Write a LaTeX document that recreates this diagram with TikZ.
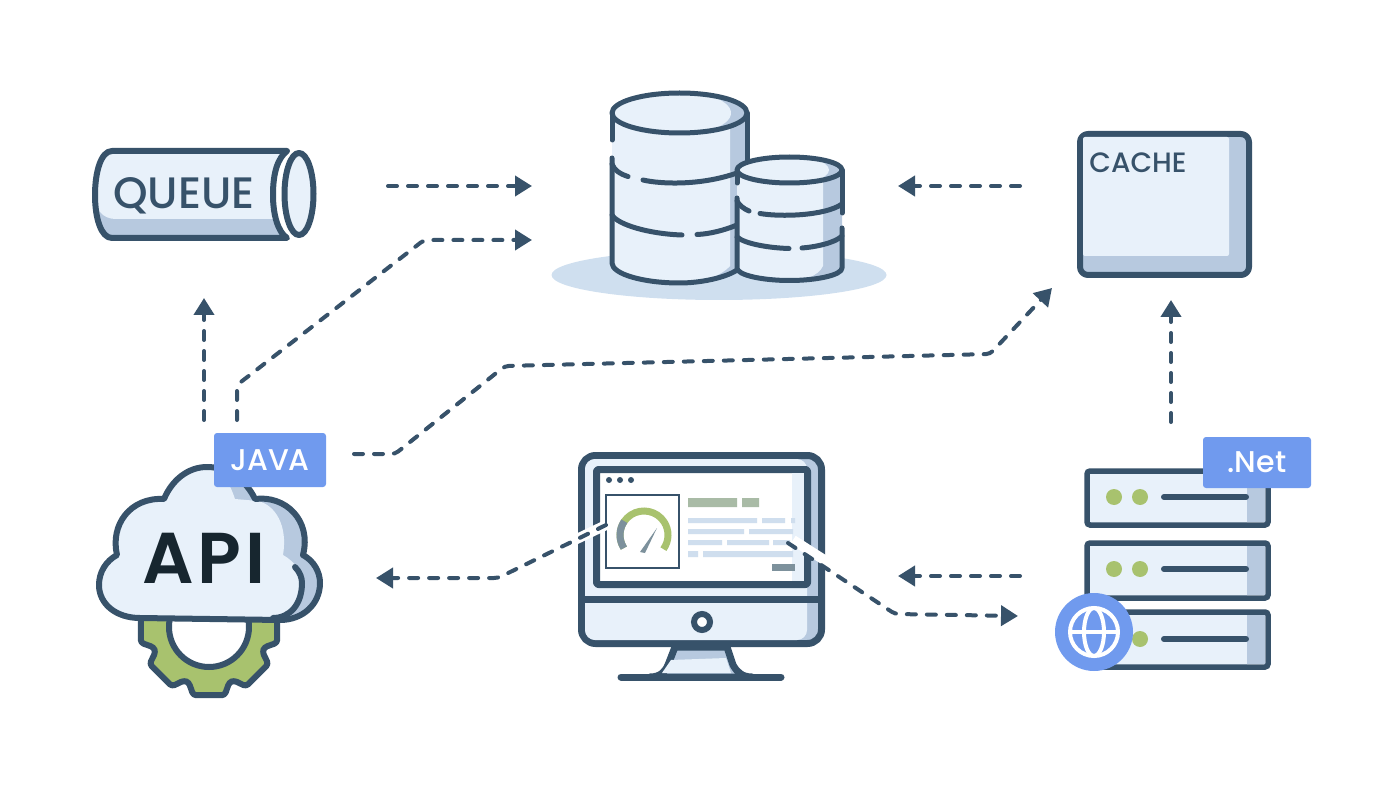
\documentclass[tikz,border=0pt]{standalone}
\usepackage{fontspec}
\usetikzlibrary{arrows.meta}
\newfontfamily\labelfont{Poppins Medium}
\newfontfamily\apifont[LetterSpace=5]{Poppins SemiBold}
\definecolor{inkline}{HTML}{37526A}
\definecolor{inkdark}{HTML}{17262F}
\definecolor{faceblue}{HTML}{E8F1FA}
\definecolor{shadeblue}{HTML}{B7C9DF}
\definecolor{groundblue}{HTML}{CFDFEF}
\definecolor{tagblue}{HTML}{709AEE}
\definecolor{leafgreen}{HTML}{A8C26E}
\definecolor{needlegray}{HTML}{7D919C}
\definecolor{barblue}{HTML}{CFDEEE}
\definecolor{bargreen}{HTML}{A9BBA6}
\tikzset{
    outline/.style={draw=inkline, line width=5pt, line join=round, line cap=round},
    flow/.style={draw=inkline, line width=4pt, line cap=round,
        dash pattern=on 9pt off 11pt, rounded corners=4pt,
        -{Triangle[length=17pt,width=20pt]}},
    halo/.style={draw=white, line width=10pt},
    tagbox/.style={fill=tagblue, rounded corners=3pt, text=white, inner sep=0pt,
        font=\labelfont\fontsize{30}{30}\selectfont},
    iconlabel/.style={anchor=base, inner sep=0pt, text=inkline},
    rackunit/.style={fill=faceblue, draw=inkline, line width=5.5pt, rounded corners=3pt}
}
\begin{document}
\begin{tikzpicture}[x=1pt, y=-1pt]
    \useasboundingbox (0,0) rectangle (1400,794);

    % queue
    \fill[shadeblue] (287,151) -- (112,151) .. controls (101,151) and (95,172) .. (95,195)
        .. controls (95,218) and (101,238) .. (112,238) -- (287,238)
        .. controls (278,232) and (273,215) .. (273,195) .. controls (273,172) and (278,158) .. (287,151) -- cycle;
    \fill[faceblue] (287,151) -- (112,151) .. controls (101,151) and (95,172) .. (95,195)
        .. controls (95,210) and (103,219) .. (116,219) -- (274,219)
        .. controls (273,212) and (273,203) .. (273,195) .. controls (273,172) and (278,158) .. (287,151) -- cycle;
    \draw[outline, line width=6pt] (287,151) -- (112,151) .. controls (101,151) and (95,172) .. (95,195)
        .. controls (95,218) and (101,238) .. (112,238) -- (287,238)
        .. controls (278,232) and (273,215) .. (273,195) .. controls (273,172) and (278,158) .. (287,151);
    \draw[outline, line width=6pt, fill=faceblue] (299,194) ellipse [x radius=14.5, y radius=41];
    \node[iconlabel, font=\labelfont\fontsize{44}{44}\selectfont] (queue) at (184,209) {QUEUE};

    % database
    \fill[groundblue] (719,275) ellipse [x radius=167.5, y radius=25];
    \fill[shadeblue] (612,113) -- (612,263) .. controls (612,274) and (643,283) .. (679.5,283)
        .. controls (716,283) and (747,274) .. (747,263) -- (747,113) -- cycle;
    \fill[faceblue] (612,113) -- (612,263) .. controls (612,274) and (643,283) .. (679.5,283)
        .. controls (700,283) and (720,277) .. (730,266) -- (730,113) -- cycle;
    \fill[shadeblue] (679.5,113) ellipse [x radius=67.5, y radius=20];
    \begin{scope}
        \clip (679.5,113) ellipse [x radius=67.5, y radius=20];
        \fill[faceblue] (663,113) ellipse [x radius=68, y radius=24];
    \end{scope}
    \draw[outline] (679.5,113) ellipse [x radius=67.5, y radius=20];
    \draw[outline] (612,113) -- (612,140);
    \draw[outline] (612,158) -- (612,263) .. controls (612,274) and (643,283) .. (679.5,283)
        .. controls (700,283) and (725,278) .. (737,270);
    \draw[outline] (747,113) -- (747,160);
    \draw[outline] (612,164) .. controls (614,170) and (620,174) .. (628,176.5);
    \draw[outline] (643,180) .. controls (660,184) and (700,186) .. (737,173);
    \draw[outline] (612,215) .. controls (618,225) and (650,234) .. (682,235);
    \draw[outline] (697,234.5) .. controls (710,234) and (725,230) .. (737,225);

    \fill[shadeblue] (737,170) -- (737,268) .. controls (737,275) and (762,280.5) .. (789.5,280.5)
        .. controls (817,280.5) and (842,275) .. (842,268) -- (842,170) -- cycle;
    \fill[faceblue] (737,170) -- (737,268) .. controls (737,275) and (762,280.5) .. (789.5,280.5)
        .. controls (802,280.5) and (818,277) .. (823,266) -- (823,170) -- cycle;
    \fill[shadeblue] (789.5,170) ellipse [x radius=52.5, y radius=13];
    \begin{scope}
        \clip (789.5,170) ellipse [x radius=52.5, y radius=13];
        \fill[faceblue] (777,170) ellipse [x radius=52, y radius=16];
    \end{scope}
    \draw[outline] (789.5,170) ellipse [x radius=52.5, y radius=13];
    \draw[outline] (737,170) -- (737,183);
    \draw[outline] (737,198) -- (737,268) .. controls (737,275) and (762,280.5) .. (789.5,280.5)
        .. controls (817,280.5) and (842,275) .. (842,268) -- (842,228);
    \draw[outline] (842,170) -- (842,213);
    \draw[outline] (737,201) .. controls (739,205) and (744,209) .. (749,211);
    \draw[outline] (760,213.5) .. controls (780,217) and (825,216) .. (842,204);
    \draw[outline] (737,237) .. controls (745,244) and (770,248) .. (789,248.5);
    \draw[outline] (802,248) .. controls (815,247) and (835,243) .. (842,236);

    % cache
    \draw[outline, line width=6pt, fill=shadeblue, rounded corners=8pt] (1080,134) rectangle (1249,275);
    \fill[faceblue, rounded corners=2pt] (1083,137) rectangle (1229,256);
    \node[iconlabel, font=\labelfont\fontsize{28}{28}\selectfont] (cache) at (1138,173) {CACHE};

    % gear
    \begin{scope}[shift={(209,627)}]
        \draw[outline, line width=6pt, fill=leafgreen, rounded corners=3pt]
            (-20:59) \foreach \a in {0,45,...,315} { -- (\a-20:59) -- (\a-13:70) -- (\a+13:70) -- (\a+20:59) } -- cycle;
        \draw[outline, line width=6pt, fill=white] (0,0) circle (40);
    \end{scope}

    % cloud
    \fill[shadeblue] (140,618) .. controls (116,618) and (99,604) .. (99,585) .. controls (99,572) and (106,561) .. (117,555)
        .. controls (110,525) and (130,497) .. (164,499) .. controls (172,480) and (188,467) .. (207,467)
        .. controls (228,467) and (246,480) .. (255,499) .. controls (285,495) and (312,520) .. (303,555)
        .. controls (314,561) and (320,572) .. (320,583) .. controls (320,604) and (303,620) .. (280,620) -- cycle;
    \fill[faceblue] (140,618) .. controls (116,618) and (99,604) .. (99,585) .. controls (99,572) and (106,561) .. (117,555)
        .. controls (110,525) and (130,497) .. (164,499) .. controls (172,480) and (188,467) .. (207,467)
        .. controls (220,470) and (228,478) .. (235,499) -- (258,501) .. controls (275,505) and (288,525) .. (283,555)
        .. controls (294,561) and (302,572) .. (302,583) .. controls (302,604) and (290,618) .. (273,618) -- cycle;
    \draw[outline, line width=6pt] (140,618) .. controls (116,618) and (99,604) .. (99,585) .. controls (99,572) and (106,561) .. (117,555)
        .. controls (110,525) and (130,497) .. (164,499) .. controls (172,480) and (188,467) .. (207,467)
        .. controls (228,467) and (246,480) .. (255,499) .. controls (285,495) and (312,520) .. (303,555)
        .. controls (314,561) and (320,572) .. (320,583) .. controls (320,604) and (303,620) .. (280,620) -- cycle;
    \draw[outline, line width=6pt] (295,567) .. controls (300,572) and (302,578) .. (302,583)
        .. controls (302,604) and (290,618) .. (273,618);
    \node[iconlabel, text=inkdark, font=\apifont\fontsize{72}{72}\selectfont] (api) at (204,583) {API};
    \node[tagbox, minimum width=112pt, minimum height=54pt] (java) at (270,460) {JAVA};

    % monitor
    \draw[outline, line width=7pt, fill=shadeblue] (675,647) -- (668,665) .. controls (665,672) and (660,677) .. (650,677)
        -- (752,677) .. controls (742,677) and (737,672) .. (733,665) -- (727,647) -- cycle;
    \fill[faceblue] (671,660) -- (726,658) -- (731,673) -- (662,673) -- cycle;
    \draw[outline, line width=7pt] (621,677) -- (781,677);
    \draw[outline, line width=7pt, fill=shadeblue, rounded corners=14pt] (581.5,455.5) rectangle (821.5,643.5);
    \fill[faceblue, rounded corners=10pt] (585,459) rectangle (807,640);
    \draw[outline, line width=7pt, line cap=butt] (581.5,599) -- (821.5,599);
    \draw[outline, line width=7pt, fill=white, rounded corners=2pt] (596.5,469.5) rectangle (807.5,584.5);
    \fill[faceblue] (792,473) rectangle (804,581);
    \foreach \px in {609,620,631}
        \fill[inkline] (\px,480) circle (3);
    \draw[draw=inkline, line width=6pt, fill=white] (702,622) circle (8);

    % screen content
    \node[draw=inkline, line width=1.5pt, fill=white, minimum width=73pt, minimum height=73pt, inner sep=0pt] (gaugebox) at (642.5,531.5) {};
    \draw[draw=leafgreen, line width=7pt] (644,535) ++(147:24) arc (147:396:24);
    \draw[draw=needlegray, line width=7pt] (644,535) ++(147:24) arc (147:215:24);
    \fill[needlegray] (640,552) -- (657,528) -- (645,553) -- cycle;
    \fill[bargreen] (688,498) rectangle (737,507) (742,498) rectangle (759,507);
    \fill[barblue] (688,518) rectangle (757,523) (762,518) rectangle (785,523) (791,518) rectangle (795,523);
    \fill[barblue] (688,529) rectangle (744,534) (749,529) rectangle (793,534);
    \fill[barblue] (688,540) rectangle (722,545) (727,540) rectangle (769,545) (773,540) rectangle (790,545);
    \fill[barblue] (688,551) rectangle (698,557) (703,551) rectangle (793,557);
    \fill[needlegray] (772,564) rectangle (795,571);

    % server rack
    \foreach \ry in {497,569,639} {
        \fill[faceblue] (1087,\ry-27) rectangle (1247,\ry+28);
    }
    \draw[rackunit, fill=none] (1087,471) rectangle (1268,525);
    \draw[rackunit, fill=none] (1087,543) rectangle (1268,598);
    \draw[rackunit, fill=none] (1087,612) rectangle (1268,667);
    \fill[shadeblue] (1247,474) rectangle (1265,522) (1247,546) rectangle (1265,595) (1247,615) rectangle (1265,664);
    \foreach \ry in {497,569,639} {
        \fill[leafgreen] (1114,\ry) circle (8);
        \fill[leafgreen] (1140,\ry) circle (8);
        \draw[outline, line width=6pt] (1164,\ry) -- (1246,\ry);
    }
    \node[circle, fill=tagblue, minimum size=78pt, inner sep=0pt] (globe) at (1094,632) {};
    \draw[white, line width=4pt] (1094,632) circle (24);
    \draw[white, line width=4pt] (1094,632) ellipse [x radius=10, y radius=24];
    \draw[white, line width=4pt] (1070,632) -- (1118,632);
    \node[tagbox, minimum width=108pt, minimum height=51pt] (net) at (1257,462.5) {.Net};

    % free ends of the connectors
    \coordinate (queueout) at (388,186);
    \coordinate (dbleft) at (532,186);
    \coordinate (dbleftlow) at (532,240);
    \coordinate (dbright) at (898,186);
    \coordinate (cacheleft) at (1020,186);
    \coordinate (cachein) at (1052,288);
    \coordinate (cachedown) at (1171,300);
    \coordinate (netup) at (1171,422);
    \coordinate (queuedown) at (204,298);
    \coordinate (apiup) at (204,420);
    \coordinate (apidb) at (237,420);
    \coordinate (javaout) at (354,454);
    \coordinate (apiin) at (376,578);
    \coordinate (gaugeout) at (606,525);
    \coordinate (textout) at (788,543);
    \coordinate (rackin) at (1018,616);
    \coordinate (rackout) at (1020,576);
    \coordinate (monitorin) at (898,576);

    % connectors
    \draw[flow] (queueout) -- (dbleft);
    \draw[flow] (apidb) -- (237,385) -- (424,240) -- (dbleftlow);
    \draw[flow] (apiup) -- (queuedown);
    \draw[flow] (cacheleft) -- (dbright);
    \draw[flow] (netup) -- (cachedown);
    \draw[flow] (javaout) -- (395,454) -- (505,366) -- (990,354) -- (cachein);
    \draw[flow] (rackout) -- (monitorin);
    \draw[halo] (gaugeout) -- (560,547);
    \draw[halo] (793,540) -- (840,570);
    \draw[flow] (gaugeout) -- (498,578) -- (apiin);
    \draw[flow] (textout) -- (895,614) -- (rackin);
\end{tikzpicture}
\end{document}
